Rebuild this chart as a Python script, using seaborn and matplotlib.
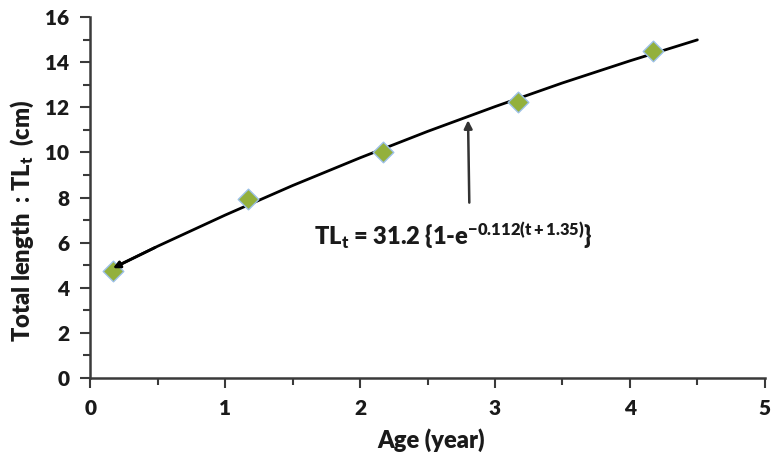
import matplotlib
matplotlib.use("Agg")
import matplotlib.pyplot as plt
from matplotlib.ticker import MultipleLocator
import seaborn as sns
import pandas as pd

# observed mean lengths at age
age = [0.17, 1.17, 2.17, 3.17, 4.17]
total_length = [4.75, 7.92, 10.0, 12.25, 14.5]

# fitted growth curve
curve_age = [0.17, 0.5, 1.0, 1.5, 2.0, 2.5, 3.0, 3.5, 4.0, 4.5]
curve_tl = [4.88, 5.84, 7.22, 8.53, 9.76, 10.93, 12.03, 13.08, 14.06, 14.99]

x_ticks = [0, 1, 2, 3, 4, 5]
y_ticks = [0, 2, 4, 6, 8, 10, 12, 14, 16]

sns.set_style("ticks")
plt.rcParams["font.family"] = ["Lato", "DejaVu Sans"]
plt.rcParams["font.weight"] = "heavy"
plt.rcParams["mathtext.fontset"] = "custom"
plt.rcParams["mathtext.bf"] = "Lato:heavy"
plt.rcParams["mathtext.rm"] = "Lato:heavy"
plt.rcParams["mathtext.it"] = "Lato:heavy"
plt.rcParams["mathtext.default"] = "bf"

obs = pd.DataFrame({"age": age, "tl": total_length})
fit = pd.DataFrame({"age": curve_age, "tl": curve_tl})

fig = plt.figure(figsize=(7.71, 4.62), dpi=100)
ax = fig.add_axes([0.117, 0.182, 0.875, 0.781])

axis_col = "#3a3a3a"
text_col = "#1a1a1a"
sns.lineplot(data=fit, x="age", y="tl", ax=ax, color="black", linewidth=2, zorder=2)
sns.scatterplot(data=obs, x="age", y="tl", ax=ax, marker="D", s=110,
                color="#93b03c", edgecolor="#9cc0e6", linewidth=1, zorder=3)

# small arrowhead at the start of the curve
ax.annotate("", xy=(curve_age[0] - 0.02, curve_tl[0] - 0.07),
            xytext=(curve_age[1], curve_tl[1]),
            arrowprops=dict(arrowstyle="-|>", color="black", lw=2, mutation_scale=10))

# arrow from equation up to the curve
ax.annotate("", xy=(2.8, 11.55), xytext=(2.81, 7.65),
            arrowprops=dict(arrowstyle="-|>", color="#333333", lw=1.8, mutation_scale=12))
ax.text(2.69, 6.3, r"TL$_t$ = 31.2 {1-e$^{-0.112(t+1.35)}$}", ha="center", va="center",
        fontsize=17, fontweight="heavy", color=text_col)

ax.set_xlim(0, 5)
ax.set_ylim(0, 16)
ax.set_xticks(x_ticks)
ax.set_yticks(y_ticks)
ax.xaxis.set_minor_locator(MultipleLocator(0.5))
ax.yaxis.set_minor_locator(MultipleLocator(1))
ax.tick_params(axis="both", which="major", length=7, width=1.5, color=axis_col,
               labelsize=15, labelcolor=text_col, pad=8)
ax.tick_params(axis="both", which="minor", length=5, width=1.5, color=axis_col)
for lbl in ax.get_xticklabels() + ax.get_yticklabels():
    lbl.set_fontweight("heavy")

for side in ["top", "right"]:
    ax.spines[side].set_visible(False)
for side in ["left", "bottom"]:
    ax.spines[side].set_color(axis_col)
    ax.spines[side].set_linewidth(1.8)

ax.set_xlabel("Age (year)", fontsize=17, fontweight="heavy", color=text_col)
ax.set_ylabel(r"Total length  : TL$_t$  (cm)", fontsize=17, fontweight="heavy", color=text_col)
ax.xaxis.set_label_coords(0.505, -0.14)
ax.yaxis.set_label_coords(-0.08, 0.435)

fig.savefig("out.png", dpi=100)
